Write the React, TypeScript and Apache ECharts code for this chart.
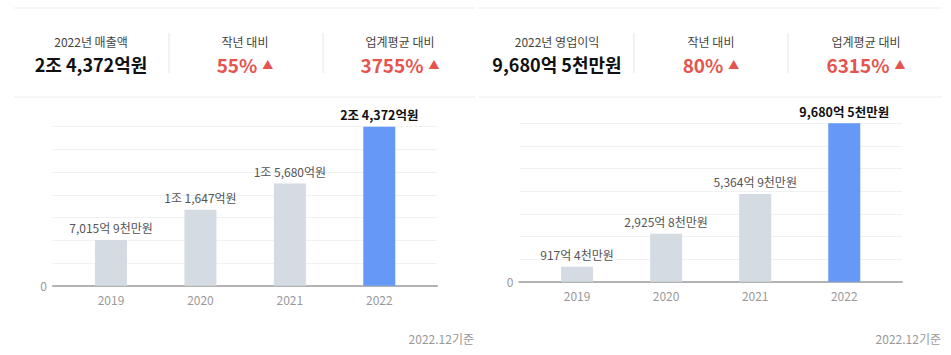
import React, { useEffect, useRef } from "react";
import * as echarts from "echarts";

const categories = ["2019", "2020", "2021", "2022"];
const revenueValues = [7015.9, 11647, 15680, 24372];
const revenueLabels = ["7,015억 9천만원", "1조 1,647억원", "1조 5,680억원", "2조 4,372억원"];
const profitValues = [917.4, 2925.8, 5364.9, 9680.5];
const profitLabels = ["917억 4천만원", "2,925억 8천만원", "5,364억 9천만원", "9,680억 5천만원"];

const summaryTitles = ["2022년 매출액", "2022년 영업이익"];
const summaryValues = ["2조 4,372억원", "9,680억 5천만원"];
const compareTitles = ["작년 대비", "업계평균 대비"];
const yoyValues = ["55%", "80%"];
const industryValues = ["3755%", "6315%"];
const footnote = "2022.12기준";

const FONT = "'Noto Sans CJK KR', 'Noto Sans', sans-serif";
const RED = "#e5544e";
const BLUE = "#6699f7";
const GRAY = "#d4dbe3";

const panels = [
  {
    values: revenueValues, labels: revenueLabels,
    backL: 53, backR: 437, barL: 66.3, barR: 424, top: 126.7, bottom: 285.7,
    lineL: 14, lineR: 475, cols: [91, 245, 400], dividers: [169, 323], footX: 474,
  },
  {
    values: profitValues, labels: profitLabels,
    backL: 519.3, backR: 902, barL: 532.5, barR: 888.8, top: 123.3, bottom: 281.7,
    lineL: 479, lineR: 942, cols: [557, 711, 866], dividers: [634, 788], footX: 941,
  },
];

export default function App() {
  const ref = useRef<HTMLDivElement>(null);
  useEffect(() => {
    if (!ref.current) return;
    const chart = echarts.init(ref.current, undefined, { renderer: "svg" });
    const grid: any[] = [];
    const xAxis: any[] = [];
    const yAxis: any[] = [];
    const series: any[] = [];
    const graphic: any[] = [];

    panels.forEach((p, k) => {
      const max = Math.max(...p.values);
      const h = p.bottom - p.top;
      grid.push({ left: p.backL, top: p.top, width: p.backR - p.backL, height: h });
      grid.push({ left: p.barL, top: p.top, width: p.barR - p.barL, height: h });
      const gb = k * 2;
      const gf = k * 2 + 1;
      xAxis.push({
        gridIndex: gb, type: "value", min: 0, max: 1,
        axisLine: { show: true, lineStyle: { color: "#b3b3b3", width: 2 } },
        axisTick: { show: false }, axisLabel: { show: false }, splitLine: { show: false },
      });
      yAxis.push({
        gridIndex: gb, type: "value", min: 0, max, interval: max / 7,
        axisLine: { show: false }, axisTick: { show: false },
        axisLabel: {
          formatter: (v: number) => (v === 0 ? "0" : ""),
          color: "#999", fontSize: 12, margin: 6, fontFamily: FONT,
        },
        splitLine: { lineStyle: { color: "#f1f1f1", width: 1 } },
      });
      xAxis.push({
        gridIndex: gf, type: "category", data: categories,
        axisLine: { show: false }, axisTick: { show: false },
        axisLabel: { color: "#999", fontSize: 12, margin: 8, fontFamily: FONT },
        splitLine: { show: false },
      });
      yAxis.push({ gridIndex: gf, type: "value", min: 0, max, show: false, splitLine: { show: false } });
      const last = p.values.length - 1;
      series.push({
        type: "bar", xAxisIndex: gf, yAxisIndex: gf, barWidth: 32,
        data: p.values.map((v, i) => ({
          value: v,
          itemStyle: { color: i === last ? BLUE : GRAY },
          label: i === last ? { fontWeight: "bold", color: "#111", fontSize: 12.5 } : undefined,
        })),
        label: {
          show: true, position: "top", distance: 6,
          formatter: (q: any) => p.labels[q.dataIndex],
          color: "#555", fontSize: 12, fontFamily: FONT,
        },
      });

      [8, 97].forEach((y) =>
        graphic.push({ type: "line", shape: { x1: p.lineL, y1: y, x2: p.lineR, y2: y }, style: { stroke: "#ececec", lineWidth: 1 } })
      );
      p.dividers.forEach((x) =>
        graphic.push({ type: "line", shape: { x1: x, y1: 33, x2: x, y2: 73 }, style: { stroke: "#e6e6e6", lineWidth: 1 } })
      );
      const titles = [summaryTitles[k], compareTitles[0], compareTitles[1]];
      titles.forEach((t, i) =>
        graphic.push({
          type: "text", x: p.cols[i], y: 41,
          style: { text: t, fill: "#444", fontSize: 12, fontFamily: FONT, align: "center", verticalAlign: "middle" },
        })
      );
      graphic.push({
        type: "text", x: p.cols[0], y: 64,
        style: { text: summaryValues[k], fill: "#111", fontSize: 18, fontWeight: "bold", fontFamily: FONT, align: "center", verticalAlign: "middle" },
      });
      [yoyValues[k], industryValues[k]].forEach((v, i) =>
        graphic.push({
          type: "text", x: p.cols[i + 1], y: 64,
          style: {
            text: `{v|${v}}{t|▲}`, align: "center", verticalAlign: "middle", fontFamily: FONT,
            rich: {
              v: { fontSize: 19, fontWeight: "bold", fill: RED, fontFamily: FONT },
              t: { fontSize: 11, fill: RED, fontFamily: FONT, padding: [0, 0, 0, 5] },
            },
          },
        })
      );
      graphic.push({
        type: "text", x: p.footX, y: 338,
        style: { text: footnote, fill: "#999", fontSize: 12, fontFamily: FONT, align: "right", verticalAlign: "middle" },
      });
    });

    chart.setOption({
      animation: false,
      textStyle: { fontFamily: FONT },
      grid, xAxis, yAxis, series, graphic,
    });
    return () => chart.dispose();
  }, []);
  return (
    <div
      ref={ref}
      style={{ position: "absolute", left: 0, top: 0, width: 951, height: 355, background: "#fff" }}
    />
  );
}
